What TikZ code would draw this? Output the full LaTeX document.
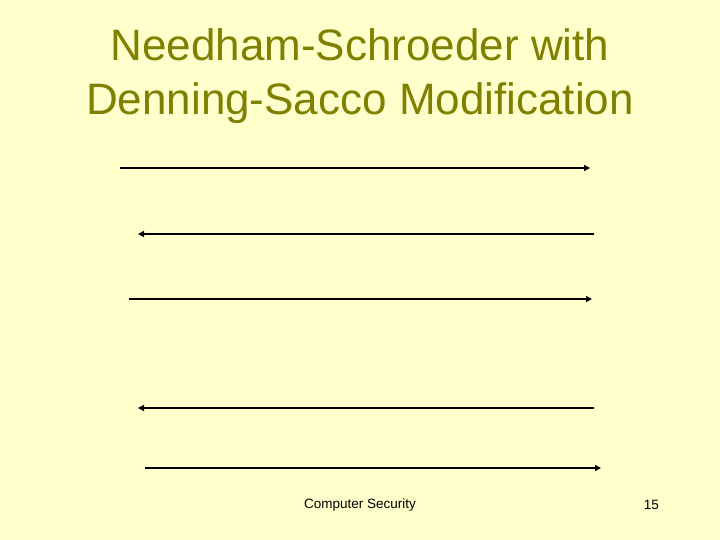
\documentclass[tikz,border=0pt]{standalone}
\usepackage{fontspec}
\setmainfont{Liberation Sans}
\usetikzlibrary{arrows.meta,positioning}
\definecolor{slidebg}{RGB}{255,255,204}
\definecolor{titlecol}{RGB}{128,128,0}
\tikzset{msg/.style={line width=1.6pt,-{Triangle[length=6pt,width=6pt]}},
         footer/.style={font=\fontsize{13.5}{16}\selectfont,inner sep=0pt}}

\begin{document}
\begin{tikzpicture}[x=1pt,y=-1pt]
           \fill[slidebg] (0,0) rectangle (720,540);
           \useasboundingbox (0,0) rectangle (720,540);
           \node[titlecol,align=center,font=\fontsize{44}{54}\selectfont] (title) at (360,76)
                {Needham-Schroeder with\\Denning-Sacco Modification};
           \coordinate (m1l) at (120,168); \coordinate (m1r) at (590,168);
           \coordinate (m2l) at (138,234); \coordinate (m2r) at (594,234);
           \coordinate (m3l) at (129,299); \coordinate (m3r) at (592,299);
           \coordinate (m4l) at (138,408); \coordinate (m4r) at (594,408);
           \coordinate (m5l) at (145,468); \coordinate (m5r) at (601,468);
            \draw[msg] (m1l) -- (m1r);
            \draw[msg] (m2r) -- (m2l);
            \draw[msg] (m3l) -- (m3r);
            \draw[msg] (m4r) -- (m4l);
            \draw[msg] (m5l) -- (m5r);
           \node[footer] (course) at (360,505) {Computer Security};
           \node[footer,anchor=east] (page) at (659,505) {15};
        \end{tikzpicture}
\end{document}
